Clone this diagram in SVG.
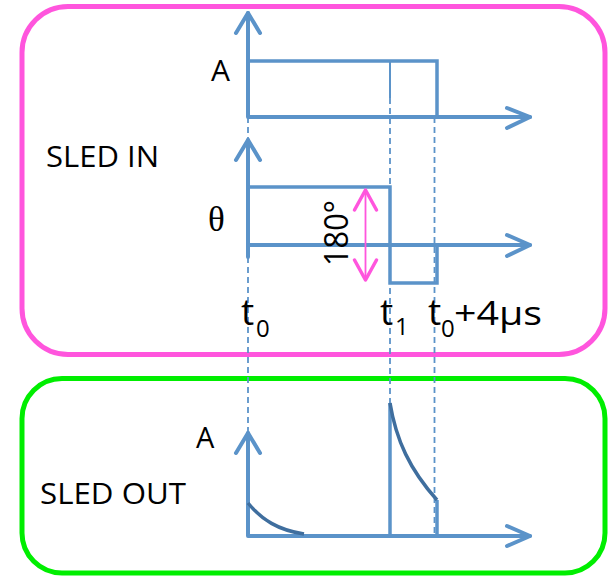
<svg xmlns="http://www.w3.org/2000/svg" width="608" height="576" viewBox="0 0 608 576">
<style>
.ax{fill:none;stroke:#5b93c9;stroke-width:4;stroke-linecap:round;stroke-linejoin:round}
.ar{fill:none;stroke:#5b93c9;stroke-width:4;stroke-linecap:round;stroke-linejoin:round}
.sig{fill:none;stroke:#5b93c9;stroke-width:3.5;stroke-linejoin:miter}
.thin{fill:none;stroke:#5b93c9;stroke-width:2}
.dash{fill:none;stroke:#5b93c9;stroke-width:1.8;stroke-dasharray:6 4}
.dec{fill:none;stroke:#3f6e9e;stroke-width:3.5;stroke-linecap:butt}
.lbl{font-family:"Open Sans","Liberation Sans",Arial,sans-serif;fill:#000}
.mg{fill:none;stroke:#ff55dd;stroke-linecap:round;stroke-linejoin:round}
</style>
<rect width="608" height="576" fill="#fff"/>
<g id="sled-in">
<rect x="22" y="6.5" width="583" height="348" rx="46" ry="46" fill="none" stroke="#ff55dd" stroke-width="5"/>
<text class="lbl" x="46" y="167" font-size="30" textLength="113" lengthAdjust="spacingAndGlyphs">SLED IN</text>
</g>
<g id="sled-out">
<rect x="22" y="378.5" width="583" height="194.5" rx="40" ry="40" fill="none" stroke="#00ee00" stroke-width="5"/>
<text class="lbl" x="40" y="503.5" font-size="30" textLength="146" lengthAdjust="spacingAndGlyphs">SLED OUT</text>
</g>
<g id="connectors">
<path class="dash" d="M248,117 V433"/>
<path class="dash" d="M390,98 V403"/>
<path class="dash" d="M434.5,117 V536"/>
</g>
<g id="amp-in">
<path class="ax" d="M248,13 V117 H530"/>
<path class="ar" d="M236,33 L248,13 L260,33"/>
<path class="ar" d="M507,108 L530,117 L507,128"/>
<path class="sig" d="M248,61 H437 V117"/>
<path class="thin" d="M390,61 V98"/>
<text class="lbl" x="211" y="81" font-size="30">A</text>
</g>
<g id="phase-in">
<path class="ax" d="M248,140 V257"/>
<path class="ax" d="M248,245 H530"/>
<path class="ar" d="M236,160 L248,140 L260,160"/>
<path class="ar" d="M507,235 L530,245 L507,256"/>
<path class="sig" d="M248,187 H390 V283 H437 V245"/>
<text x="208" y="231" font-size="35" font-family="'Liberation Serif','Times New Roman',serif">θ</text>
<path class="mg" stroke-width="1.8" d="M365.5,190 V280"/>
<path class="mg" stroke-width="3.5" d="M354.5,210 L365.5,190 L376.5,210"/>
<path class="mg" stroke-width="3.5" d="M354.5,260 L365.5,280 L376.5,260"/>
<text class="lbl" font-size="32" transform="translate(348,266) rotate(-90)" textLength="66" lengthAdjust="spacingAndGlyphs">180°</text>
</g>
<g id="amp-out">
<path class="ax" d="M248,433 V536 H530"/>
<path class="ar" d="M236,453 L248,433 L260,453"/>
<path class="ar" d="M507,526 L530,536 L507,546"/>
<path class="sig" d="M390,403 V536"/>
<path class="sig" d="M437,500 V536"/>
<path class="dec" d="M390,403 C396,440 410,470 437,500"/>
<path class="dec" d="M248,503 C262,520 278,530 304,534"/>
<text class="lbl" x="196" y="448" font-size="29">A</text>
</g>
<g id="time-labels">
<text class="lbl" x="241" y="325" font-size="37">t</text>
<text class="lbl" x="256" y="337" font-size="24">0</text>
<text class="lbl" x="380" y="325" font-size="37">t</text>
<text class="lbl" x="395" y="335" font-size="24">1</text>
<text class="lbl" x="428" y="325" font-size="37">t</text>
<text class="lbl" x="441" y="337" font-size="24">0</text>
<text class="lbl" x="454" y="325" font-size="32" textLength="88" lengthAdjust="spacingAndGlyphs">+4μs</text>
</g>
</svg>
